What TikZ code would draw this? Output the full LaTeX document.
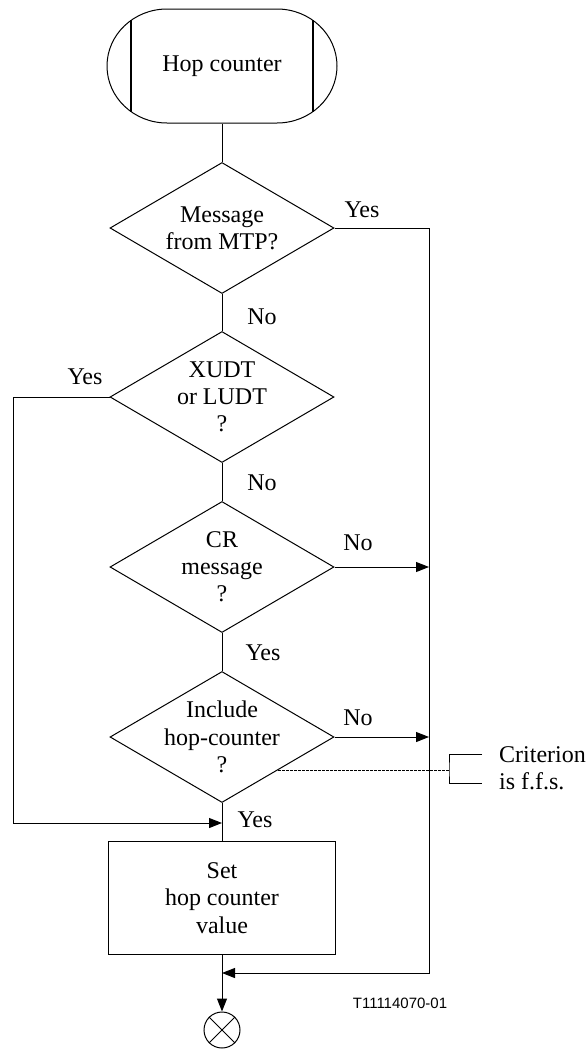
\documentclass[tikz,border=0pt]{standalone}
\usepackage{fontspec}
\setmainfont{Liberation Serif}
\newfontfamily\figsans{Liberation Sans}
\usetikzlibrary{shapes.geometric,arrows.meta}

\tikzset{
	decision/.style={diamond, draw, aspect=1.71, minimum width=112pt, minimum height=65.5pt, inner sep=-3pt, align=center},
	process/.style={rectangle, draw, minimum width=113.5pt, minimum height=56.5pt, align=center},
	endpoint/.style={circle, draw, minimum size=18pt, inner sep=0pt},
	answer/.style={inner sep=1pt}
}

\begin{document}
\begin{tikzpicture}[x=0.5pt, y=0.5pt, line width=0.5pt, >={Triangle[length=6.5pt,width=5pt]}, font=\fontsize{12}{13.6}\selectfont]
	\useasboundingbox (0,0) rectangle (588,-1050);
	% start symbol
	\node[minimum width=115pt, minimum height=57pt] (start) at (222,-66) {Hop counter};
	\draw (167,-9) -- (277,-9) arc[start angle=90, end angle=-90, x radius=30pt, y radius=28.5pt]
		-- (167,-123) arc[start angle=270, end angle=90, x radius=30pt, y radius=28.5pt] -- cycle;
	\draw[line width=0.8pt] (131,-20.4) -- (131,-111.6) (313,-20.4) -- (313,-111.6);
	% tests
	\node[decision] (mtp) at (222,-228) {Message\\from MTP?};
	\node[decision] (xudt) at (222,-397) {XUDT\\or LUDT\\?};
	\node[decision] (cr) at (222,-567) {CR\\message\\?};
	\node[decision] (hop) at (222,-737) {Include\\hop-counter\\?};
	\node[process] (set) at (222,-898) {Set\\hop counter\\value};
	\node[endpoint] (end) at (222,-1030) {};
	\draw (end.north east) -- (end.south west) (end.north west) -- (end.south east);
	\coordinate (rbot) at (429,-973);
	\coordinate (lbot) at (13,-823);
	\coordinate (crit) at (449,-770);
	% flow
	\draw (start) -- (mtp);
	\draw (mtp) -- (xudt);
	\draw (xudt) -- (cr);
	\draw (cr) -- (hop);
	\draw (hop) -- (set);
	\draw[->] (set) -- (end);
	\draw[->] (mtp.east) -| (rbot) -- (rbot -| end);
	\draw[->] (xudt.west) -| (lbot) -- (lbot -| set);
	\foreach \n in {cr,hop}
		\draw[->] (\n.east) -- (\n.east -| rbot);
	% remark
	\draw[dash pattern=on 1.2pt off 0.8pt] (hop.south east) -- (hop.south east -| crit);
	\draw (482,-754) -| (crit) |- (482,-783);
	\node[anchor=west, align=left] (note) at (492,-768) {Criterion\\is f.f.s.};
	% answers
	\foreach \nm/\pos/\txt in {a1/{362,-210}/Yes, a2/{262,-317}/No, a3/{85,-377}/Yes, a4/{262,-483}/No,
		a5/{358,-543}/No, a6/{263,-653}/Yes, a7/{358,-718}/No, a8/{255,-820}/Yes}
		\node[answer] (\nm) at (\pos) {\txt};
	\node[font=\figsans\fontsize{7.5}{9}\selectfont] (ref) at (400,-1003) {T11114070-01};
\end{tikzpicture}
\end{document}
